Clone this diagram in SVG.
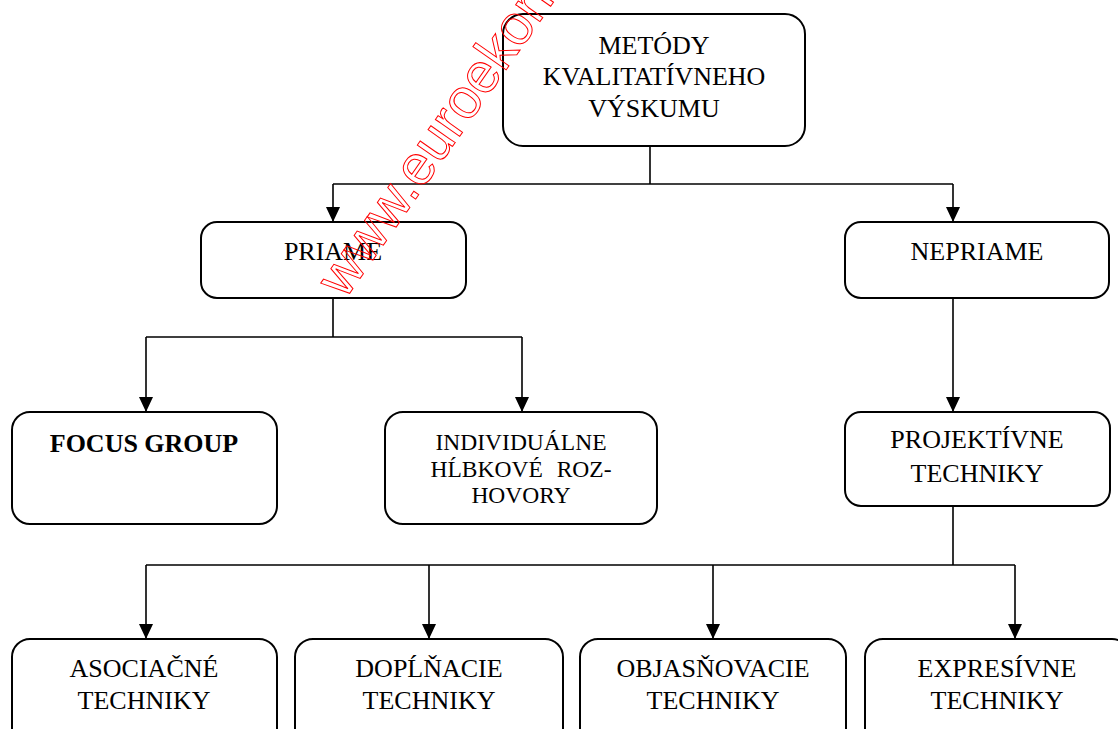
<svg xmlns="http://www.w3.org/2000/svg" width="1118" height="729" viewBox="0 0 1118 729">
<style>
.box{fill:#fff;stroke:#000;stroke-width:2}
.t{font-family:"Liberation Serif","Times New Roman",serif;font-size:26px;fill:#000;text-anchor:middle}
.s{font-size:23.5px}
.b{font-weight:bold}
.c{fill:none;stroke:#000;stroke-width:1.6}
.wm{font-family:"Liberation Sans",Arial,sans-serif;font-size:56px;fill:none;stroke:#ff0000;stroke-width:1}
</style>
<defs>
<marker id="ah" markerUnits="userSpaceOnUse" markerWidth="15" markerHeight="14" refX="15" refY="7" orient="auto" viewBox="0 0 15 14">
<path d="M0,0 L15,7 L0,14 Z" fill="#000"/>
</marker>
</defs>
<rect width="1118" height="729" fill="#fff"/>
<g id="connectors">
<path class="c" d="M650,146 V184"/>
<path class="c" d="M333,184 H953"/>
<path class="c" d="M333,184 V222" marker-end="url(#ah)"/>
<path class="c" d="M953,184 V222" marker-end="url(#ah)"/>
<path class="c" d="M333,298 V337 M146,337 H522"/>
<path class="c" d="M146,337 V412" marker-end="url(#ah)"/>
<path class="c" d="M522,337 V412" marker-end="url(#ah)"/>
<path class="c" d="M953,298 V412" marker-end="url(#ah)"/>
<path class="c" d="M953,506 V565 M146,565 H1015"/>
<path class="c" d="M146,565 V639" marker-end="url(#ah)"/>
<path class="c" d="M429,565 V639" marker-end="url(#ah)"/>
<path class="c" d="M713,565 V639" marker-end="url(#ah)"/>
<path class="c" d="M1015,565 V639" marker-end="url(#ah)"/>
</g>
<g id="metody">
<rect class="box" x="503" y="14" width="302" height="132" rx="20"/>
<text class="t" x="654" y="54">METÓDY</text>
<text class="t" x="654" y="85">KVALITATÍVNEHO</text>
<text class="t" x="654" y="117">VÝSKUMU</text>
</g>
<g id="priame">
<rect class="box" x="201" y="222" width="265" height="76" rx="16"/>
<text class="t" x="333" y="260">PRIAME</text>
</g>
<g id="nepriame">
<rect class="box" x="845" y="222" width="264" height="76" rx="16"/>
<text class="t" x="977" y="260">NEPRIAME</text>
</g>
<g id="focus">
<rect class="box" x="12" y="412" width="265" height="112" rx="18"/>
<text class="t b" x="144" y="452">FOCUS GROUP</text>
</g>
<g id="individualne">
<rect class="box" x="385" y="412" width="272" height="112" rx="18"/>
<text class="t s" x="521" y="450">INDIVIDUÁLNE</text>
<text class="t s" x="521" y="477" word-spacing="8">HĹBKOVÉ ROZ-</text>
<text class="t s" x="521" y="503">HOVORY</text>
</g>
<g id="projektivne">
<rect class="box" x="845" y="412" width="265" height="94" rx="16"/>
<text class="t" x="977" y="448">PROJEKTÍVNE</text>
<text class="t" x="977" y="482">TECHNIKY</text>
</g>
<g id="asociacne">
<rect class="box" x="12" y="639" width="265" height="130" rx="18"/>
<text class="t" x="144" y="677">ASOCIAČNÉ</text>
<text class="t" x="144" y="709">TECHNIKY</text>
</g>
<g id="doplnacie">
<rect class="box" x="295" y="639" width="268" height="130" rx="18"/>
<text class="t" x="429" y="677">DOPĹŇACIE</text>
<text class="t" x="429" y="709">TECHNIKY</text>
</g>
<g id="objasnovacie">
<rect class="box" x="580" y="639" width="266" height="130" rx="18"/>
<text class="t" x="713" y="677">OBJASŇOVACIE</text>
<text class="t" x="713" y="709">TECHNIKY</text>
</g>
<g id="expresivne">
<rect class="box" x="865" y="639" width="265" height="130" rx="18"/>
<text class="t" x="997" y="677">EXPRESÍVNE</text>
<text class="t" x="997" y="709">TECHNIKY</text>
</g>
<text class="wm" transform="translate(345,300) rotate(-55)">www.euroekonom.sk</text>
</svg>
